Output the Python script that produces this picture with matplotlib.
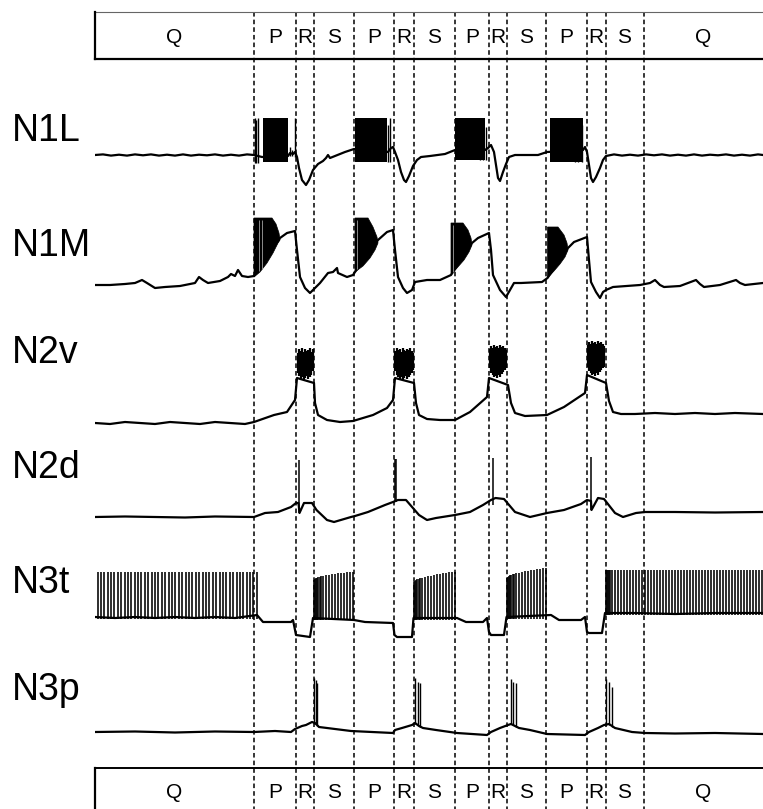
import matplotlib
matplotlib.use("Agg")
import matplotlib.pyplot as plt

plt.rcParams['font.family'] = ['Liberation Sans', 'DejaVu Sans']

# time axis in s, voltages in mV relative to each cell's resting level
t_end = 66.8
phase_edges = [15.9, 20.1, 21.85, 25.9, 29.9, 31.85, 36.0, 39.4, 41.15, 45.1, 49.2, 51.05, 54.85]
phase_labels = ['Q', 'P', 'R', 'S', 'P', 'R', 'S', 'P', 'R', 'S', 'P', 'R', 'S', 'Q']

# ---- N1L ----
n1l_t = [0, 0.8, 1.6, 2.4, 3.2, 4.0, 4.8, 5.6, 6.4, 7.2, 8.0, 8.8, 9.6, 10.4, 11.2, 12.0, 12.8, 13.6, 14.4, 15.2, 15.9,
         16.7, 19.3, 19.5, 19.8, 20.0, 20.2, 20.4, 20.7, 21.1, 21.4, 21.8, 22.3, 22.8, 23.1, 23.3, 23.5, 24.0, 25.0, 25.9,
         29.3, 29.6, 29.8, 30.0, 30.3, 30.6, 30.9, 31.1, 31.4, 31.8, 32.2, 32.6, 33.5, 35.0, 36.0,
         39.0, 39.3, 39.6, 39.9, 40.1, 40.3, 40.5, 40.8, 41.1, 41.4, 42.0, 44.3, 45.2,
         48.8, 49.0, 49.2, 49.4, 49.6, 49.8, 50.1, 50.5, 50.8, 51.1,
         51.9, 52.7, 53.5, 54.3, 55.1, 55.9, 56.7, 57.5, 58.3, 59.1, 59.9, 60.7, 61.5, 62.3, 63.1, 63.9, 64.7, 65.5, 66.3, 66.8]
n1l_v = [0, 0.6, -0.6, 0.3, -0.6, 0.6, -0.3, 0.6, -0.6, 0.3, -0.6, 0.6, -0.6, 0.3, -0.3, 0.6, -0.6, 0.3, -0.6, 0.6, 0,
         -2, -1, 2, 1, 3, -2, -13, -25, -30, -25, -15, -9, -6, -3, 0, -3, -1, 3, 6,
         3, 7, 8, 3, -5, -17, -25, -27, -21, -11, -5, -2, -1, 1, 5,
         5, 7, 10, 3, -10, -23, -26, -17, -9, -2, 0, 0, 3,
         5, 8, 3, -10, -23, -27, -22, -13, -5, -1,
         0.6, -0.6, 0.3, -0.6, 0.6, -0.3, 0.6, -0.6, 0.3, -0.6, 0.6, -0.6, 0.3, -0.3, 0.6, -0.6, 0.3, -0.6, 0.6, 0]
n1l_burst_start = [16.75, 26.0, 36.0, 45.5]
n1l_burst_end = [19.25, 29.2, 39.0, 48.8]
n1l_burst_top = [37, 37, 37, 37]
n1l_burst_bottom = [-7, -7, -5, -7]
n1l_spike_t = [15.95, 16.1, 16.3, 19.45, 19.7, 19.95, 29.3, 29.45, 38.5, 38.8, 39.05, 48.0, 48.3, 48.7]
n1l_spike_top = [37, 35, 37, 8, 5, 37, 30, 37, 33, 35, 28, 34, 36, 30]
n1l_spike_bottom = [-8, -8, -8, -1, -1, -2, -7, -7, -5, -5, -5, -7, -7, -7]

# ---- N1M ----
n1m_t = [0, 1.5, 3.0, 4.0, 4.7, 5.2, 6.0, 7.0, 8.5, 10.0, 10.4, 10.8, 11.3, 12.5, 13.3, 13.6, 14.0, 14.3, 14.7, 15.3, 15.9,
         18.5, 19.2, 20.0, 20.2, 20.5, 21.0, 21.5, 21.8, 22.5, 23.3, 23.8, 24.2, 24.3, 25.2, 25.8, 26.0,
         28.3, 29.2, 29.8, 30.0, 30.3, 30.8, 31.2, 31.7, 32.0, 33.2, 34.5, 35.6,
         37.7, 38.3, 39.4, 39.6, 39.8, 40.5, 41.1, 41.5, 41.9, 42.6, 44.7, 45.25,
         47.3, 47.9, 49.2, 49.4, 49.6, 50.1, 50.5, 50.8, 51.1, 51.8, 54.5, 55.5, 56.0, 56.5, 56.9, 58.5,
         60.1, 60.5, 60.9, 62.5, 64.1, 64.5, 65.0, 66.8]
n1m_v = [0, 0, 1, 2, 5, 2, -3, -2, -1, 2, 8, 5, 2, 4, 8, 11, 9, 15, 9, 8, 9,
         47, 52, 54, 35, 8, -3, -8, -5, 2, 12, 13, 17, 12, 8, 10, 13,
         45, 53, 55, 35, 8, -3, -8, -5, 3, 5, 5, 10,
         42, 47, 52, 35, 10, -5, -12, -5, 2, 2, 3, 7,
         37, 43, 48, 25, 3, -7, -13, -7, -5, -2, 0, 2, 5, 0, -2, -1,
         5, 1, -2, 0, 5, 2, 0, 2]
n1m_dome_t = [[15.9, 15.9, 17.7, 18.1, 18.4, 18.5, 18.3, 17.8, 17.2, 16.5],
              [26.0, 26.0, 27.3, 27.8, 28.2, 28.3, 28.0, 27.5, 26.8],
              [35.6, 35.6, 36.8, 37.3, 37.6, 37.7, 37.4, 36.9, 36.2],
              [45.25, 45.25, 46.3, 46.9, 47.2, 47.3, 47.0, 46.5, 45.9]]
n1m_dome_v = [[8, 67, 67, 61, 52, 45, 42, 32, 22, 13],
              [13, 67, 67, 58, 48, 42, 35, 27, 19],
              [10, 62, 62, 55, 47, 40, 33, 25, 17],
              [7, 58, 58, 50, 42, 35, 28, 21, 14]]
n1m_stripe_t = [16.4, 16.7, 26.2, 35.8]
n1m_stripe_lo = [14, 16, 16, 13]
n1m_stripe_hi = [65, 65, 65, 60]

# ---- N2v ----
n2v_t = [0, 1.5, 3.0, 4.5, 6.0, 7.5, 9.0, 10.5, 12.0, 13.5, 15.0, 15.9, 17.9, 19.2, 20.0, 20.2,
         21.9, 22.0, 22.3, 23.2, 24.5, 25.8, 27.8, 29.2, 29.8, 30.0,
         31.9, 32.1, 32.4, 33.2, 34.5, 36.0, 37.5, 39.2, 39.4,
         41.3, 41.6, 42.0, 43.0, 45.2, 46.9, 49.0, 49.2,
         51.1, 51.4, 51.8, 52.6, 54.0, 56.0, 58.0, 60.0, 62.0, 64.0, 66.8]
n2v_v = [0, -1, 1, 0, -1, 1, 0, -1, 1, 0, -1, 1, 8, 11, 23, 45,
         40, 20, 8, 3, 1, 2, 8, 15, 23, 45,
         40, 20, 8, 4, 3, 3, 11, 26, 45,
         38, 20, 10, 7, 8, 16, 30, 48,
         40, 22, 11, 9, 9, 10, 9, 10, 9, 10, 9]
n2v_burst_start = [20.2, 29.95, 39.4, 49.2]
n2v_burst_end = [21.85, 31.85, 41.15, 51.0]
n2v_burst_top = [70, 70, 73, 77]
n2v_burst_bottom = [52, 53, 55, 56]
# individual spikes making up the ragged edges of the N2v bursts
n2v_spk_t = [20.25, 20.4, 20.55, 20.7, 20.85, 21.0, 21.15, 21.3, 21.45, 21.6, 21.75,
             30.0, 30.15, 30.3, 30.45, 30.6, 30.75, 30.9, 31.05, 31.2, 31.35, 31.5, 31.65, 31.8,
             39.45, 39.6, 39.75, 39.9, 40.05, 40.2, 40.35, 40.5, 40.65, 40.8, 40.95, 41.1,
             49.25, 49.4, 49.55, 49.7, 49.85, 50.0, 50.15, 50.3, 50.45, 50.6, 50.75, 50.9]
n2v_spk_top = [70, 74, 72, 75, 71, 74, 72, 73, 75, 71, 74,
               72, 75, 73, 74, 71, 75, 73, 72, 74, 73, 75, 72, 70,
               74, 77, 75, 78, 76, 77, 75, 78, 76, 77, 75, 73,
               78, 81, 79, 82, 80, 81, 79, 82, 80, 81, 79, 77]
n2v_spk_bottom = [50, 47, 44, 46, 43, 45, 47, 44, 46, 48, 52,
                  52, 48, 46, 44, 46, 43, 45, 47, 44, 46, 48, 50, 53,
                  55, 50, 48, 46, 47, 45, 48, 46, 49, 51, 53, 56,
                  56, 52, 50, 48, 49, 47, 50, 48, 51, 53, 55, 58]

# ---- N2d ----
n2d_t = [0, 3, 6, 9, 12, 15.9, 17.0, 18.3, 19.6, 20.1, 20.35, 20.45, 20.9, 21.7, 22.15, 23.2, 23.9, 25.6,
         26.0, 27.3, 29.0, 29.8, 30.3, 31.1, 32.4, 33.2, 34.1,
         36.0, 37.5, 38.8, 39.6, 40.05, 40.9, 42.0, 43.5,
         45.2, 46.9, 48.6, 49.2, 49.6, 49.65, 50.3, 50.9, 52.0, 52.8, 54.1, 55.0, 58.0, 62.0, 66.8]
n2d_v = [0, 0.5, 0, -0.5, 0.5, 0, 4, 5, 10, 14, 14, 4, 14, 14, 7, -3, -5, 0,
         1, 5, 12, 15, 17, 17, 2, -3, -1,
         2, 5, 12, 17, 19, 18, 5, 0,
         4, 7, 13, 17, 16, 7, 19, 18, 4, 0, 4, 5, 5, 4.5, 5]
n2d_spike_t = [20.4, 29.95, 30.05, 39.8, 49.55]
n2d_spike_top = [57, 58, 58, 59, 60]
n2d_spike_bottom = [4, 15, 15, 12, 7]

# ---- N3t ----
n3t_t = [0, 2, 4, 6, 8, 10, 12, 14, 16.2, 16.8, 19.6, 19.8, 20.1, 21.5, 21.8,
         25.9, 27.0, 29.8, 29.95, 30.2, 31.7, 31.85,
         36.2, 37.1, 38.8, 39.2, 39.4, 39.6, 40.9, 41.15,
         45.6, 46.4, 48.6, 49.0, 49.2, 49.4, 50.7, 51.0, 54, 58, 62, 66.8]
n3t_v = [0, -1, 0, -1, 0, -1, 0, -1, 2, -5, -5, -3, -18, -20, -1,
         -3, -5, -6, -18, -20, -20, -1,
         -1, -5, -5, -1, -15, -18, -18, 0,
         2, -3, -3, 0, -15, -16, -16, 4, 4, 3, 4, 4]
n3t_q1_t = [0.3, 0.6, 0.9, 1.3, 1.6, 1.9, 2.3, 2.6, 3.0, 3.3, 3.6, 4.0, 4.3, 4.6, 5.0, 5.3, 5.7, 6.0,
            6.3, 6.7, 7.0, 7.4, 7.7, 8.0, 8.4, 8.7, 9.1, 9.4, 9.7, 10.1, 10.4, 10.8, 11.1, 11.4, 11.8,
            12.1, 12.5, 12.8, 13.1, 13.5, 13.8, 14.2, 14.5, 14.8, 15.2, 15.5, 15.8, 16.2]
n3t_s1_t = [21.9, 22.0, 22.1, 22.2, 22.3, 22.45, 22.6, 22.8, 23.1, 23.4, 23.7, 24.0, 24.3, 24.6, 24.9, 25.2, 25.5, 25.8]
n3t_s1_top = [37, 38, 39, 39, 40, 40, 41, 41, 42, 42, 43, 43, 44, 44, 44, 45, 45, 45]
n3t_s2_t = [31.9, 32.0, 32.1, 32.2, 32.35, 32.5, 32.7, 33.0, 33.3, 33.6, 33.9, 34.2, 34.5, 34.8, 35.1, 35.4, 35.7, 35.95]
n3t_s2_top = [35, 36, 37, 38, 38, 39, 39, 40, 41, 41, 42, 43, 43, 44, 44, 45, 45, 45]
n3t_s3_t = [41.2, 41.3, 41.4, 41.5, 41.6, 41.75, 41.9, 42.1, 42.4, 42.7, 43.0, 43.3, 43.6, 43.9, 44.2, 44.5, 44.8, 45.05]
n3t_s3_top = [39, 40, 41, 42, 42, 43, 43, 44, 44, 45, 46, 46, 47, 47, 48, 48, 49, 49]
n3t_q2_t = [51.05, 51.15, 51.25, 51.35, 51.5, 51.7, 52.0, 52.3, 52.6, 52.9, 53.2, 53.5, 53.8, 54.1, 54.4,
            54.7, 55.0, 55.3, 55.6, 55.9, 56.2, 56.5, 56.8, 57.1, 57.4, 57.7, 58.0, 58.3, 58.6, 58.9,
            59.2, 59.5, 59.8, 60.1, 60.4, 60.7, 61.0, 61.3, 61.6, 61.9, 62.2, 62.5, 62.8, 63.1, 63.4,
            63.7, 64.0, 64.3, 64.6, 64.9, 65.2, 65.5, 65.8, 66.1, 66.4, 66.7]

# ---- N3p ----
n3p_t = [0, 4, 8, 12, 15.9, 18.0, 19.6, 20.0, 20.7, 21.1, 21.7, 22.0, 22.4, 23.2, 25.6,
         29.8, 30.0, 30.7, 31.7, 32.0, 32.4, 32.8, 34.1, 36.2,
         39.2, 39.6, 40.5, 41.3, 41.6, 42.4, 43.5, 45.2,
         49.0, 49.4, 50.3, 50.9, 51.4, 52.0, 53.7, 55.0, 58, 62, 66.8]
n3p_v = [0, 0.5, -0.5, 0.5, 0, 1, 0, 3, 6, 7, 10, 9, 5, 4, 1,
         -1, 2, 4, 7, 9, 6, 4, 2, -1,
         -3, 0, 4, 7, 8, 4, 2, -2,
         -3, 0, 4, 7, 8, 4, 0, -1, -1.5, -1, -2]
n3p_spike_t = [21.94, 22.07, 22.24, 32.04, 32.25, 32.47, 41.6, 41.84, 42.1, 51.1, 51.4, 51.7]
n3p_spike_top = [54, 52, 49, 54, 50, 49, 53, 50, 49, 53, 50, 45]
n3p_spike_bottom = [8, 8, 6, 8, 7, 5, 8, 7, 5, 7, 7, 5]

W, H = 763, 809
fig = plt.figure(figsize=(W / 100, H / 100), dpi=100)
LW = 1.6


def trace_axes(top, bottom, base):
    # axes covering pixel rows top..bottom, resting level drawn at row 'base'
    ax = fig.add_axes([95 / W, 1 - bottom / H, (W - 95) / W, (bottom - top) / H])
    ax.set_xlim(0, t_end)
    ax.set_ylim(base - bottom, base - top)
    ax.axis('off')
    return ax


def blocks(ax, starts, ends, tops, bottoms):
    for a, b, hi, lo in zip(starts, ends, tops, bottoms):
        ax.fill_between([a, b], [lo, lo], [hi, hi], color='k', lw=0)


# N1L
ax = trace_axes(95, 195, 155)
ax.plot(n1l_t, n1l_v, color='k', lw=LW)
blocks(ax, n1l_burst_start, n1l_burst_end, n1l_burst_top, n1l_burst_bottom)
ax.vlines(n1l_spike_t, n1l_spike_bottom, n1l_spike_top, colors='k', lw=1)

# N1M
ax = trace_axes(205, 305, 285)
ax.plot(n1m_t, n1m_v, color='k', lw=LW)
for dt, dv in zip(n1m_dome_t, n1m_dome_v):
    ax.fill(dt, dv, color='k', lw=0.5)
ax.vlines(n1m_stripe_t, n1m_stripe_lo, n1m_stripe_hi, colors='0.55', lw=0.7)

# N2v
ax = trace_axes(330, 435, 423)
ax.plot(n2v_t, n2v_v, color='k', lw=LW)
blocks(ax, n2v_burst_start, n2v_burst_end, n2v_burst_top, n2v_burst_bottom)
ax.vlines(n2v_spk_t, n2v_spk_bottom, n2v_spk_top, colors='k', lw=1.6)

# N2d
ax = trace_axes(445, 530, 517)
ax.plot(n2d_t, n2d_v, color='k', lw=LW)
ax.vlines(n2d_spike_t, n2d_spike_bottom, n2d_spike_top, colors='k', lw=1.1)

# N3t
ax = trace_axes(555, 645, 617)
ax.plot(n3t_t, n3t_v, color='k', lw=LW)
SPK = 1.15
ax.vlines(n3t_q1_t, -2, 45, colors='k', lw=SPK)
ax.vlines(n3t_s1_t, -3, n3t_s1_top, colors='k', lw=SPK)
ax.vlines(n3t_s2_t, -3, n3t_s2_top, colors='k', lw=SPK)
ax.vlines(n3t_s3_t, -2, n3t_s3_top, colors='k', lw=SPK)
ax.vlines(n3t_q2_t, 2, 47, colors='k', lw=SPK)

# N3p
ax = trace_axes(660, 745, 732)
ax.plot(n3p_t, n3p_v, color='k', lw=LW)
ax.vlines(n3p_spike_t, n3p_spike_bottom, n3p_spike_top, colors='k', lw=1)

# cell names
names = ['N1L', 'N1M', 'N2v', 'N2d', 'N3t', 'N3p']
name_rows = [131, 246, 353, 468, 583, 690]
for nm, row in zip(names, name_rows):
    fig.text(12 / W, 1 - row / H, nm, fontsize=27, ha='left', va='center')

# overlay: phase boxes and dashed boundaries
ov = fig.add_axes([0, 0, 1, 1])
ov.set_xlim(-9.5, t_end)
ov.set_ylim(H, 0)
ov.axis('off')
ov.patch.set_alpha(0)
ov.vlines(phase_edges, 12, H, colors='k', linestyles=(0, (3, 2)), lw=1.1)

ov.plot([0, t_end], [12, 12], color='0.4', lw=0.8)
ov.plot([0, t_end], [59, 59], color='k', lw=1.6)
ov.plot([0, 0], [12, 59], color='k', lw=1.6)
ov.plot([0, t_end], [768, 768], color='k', lw=1.4)
ov.plot([0, 0], [768, H], color='k', lw=1.6)

bounds = [0] + phase_edges + [t_end]
for i, lab in enumerate(phase_labels):
    mid = (bounds[i] + bounds[i + 1]) / 2
    ov.text(mid, 37, lab, fontsize=15, ha='center', va='center')
    ov.text(mid, 792, lab, fontsize=15, ha='center', va='center')

fig.savefig('out.png', dpi=100)
